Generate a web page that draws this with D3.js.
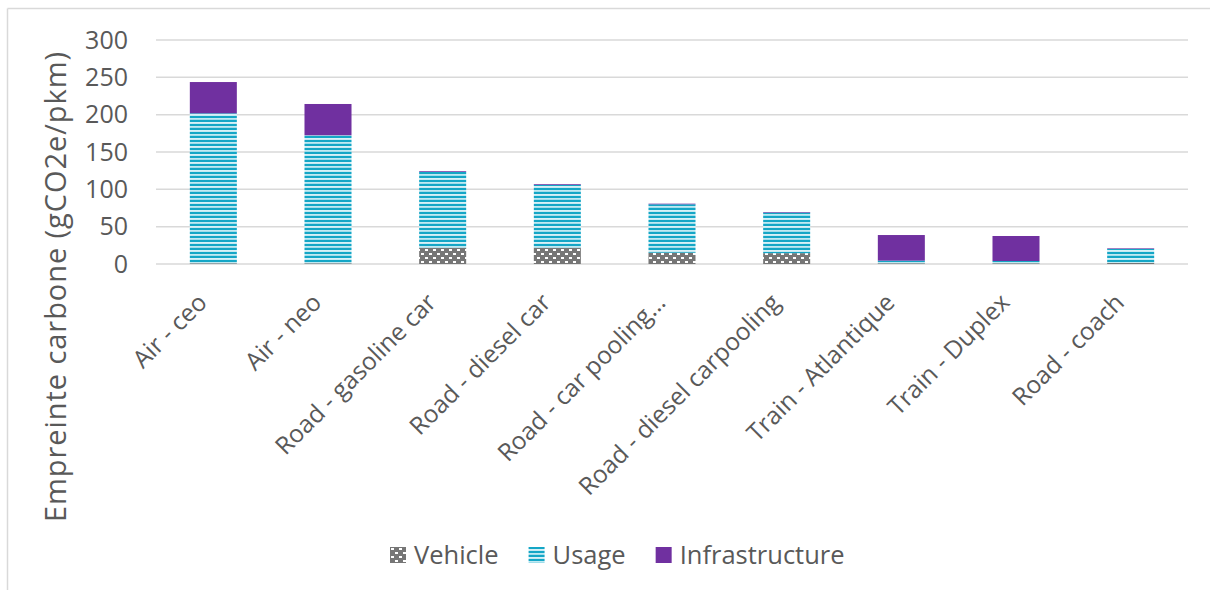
<!DOCTYPE html>
<html>
<head>
<meta charset="utf-8">
<script src="https://cdn.jsdelivr.net/npm/d3@7"></script>
<style>
  body { margin: 0; background: #fff; }
  svg { font-family: "Open Sans", sans-serif; }
</style>
</head>
<body>
<svg id="chart" width="1210" height="590"></svg>
<script>
var categories = ["Air - ceo", "Air - neo", "Road - gasoline car", "Road - diesel car",
  "Road - car pooling\u2026", "Road - diesel carpooling", "Train - Atlantique", "Train - Duplex", "Road - coach"];
var vehicle = [1, 1, 21.8, 21.8, 15.1, 14.5, 1, 1, 1.5];
var usage = [200.8, 171.4, 101.7, 84.2, 64.9, 54.3, 3.5, 3, 18.7];
var infrastructure = [41.9, 41.9, 1, 1, 0.8, 0.8, 34.3, 33.5, 0.8];
var series = ["Vehicle", "Usage", "Infrastructure"];
var yTicks = [0, 50, 100, 150, 200, 250, 300];

function draw() {
  var svg = d3.select("#chart");
  var defs = svg.append("defs");

  // vehicle pattern: grey with small white blocks
  var pv = defs.append("pattern").attr("id", "pVehicle")
    .attr("patternUnits", "userSpaceOnUse").attr("width", 8).attr("height", 8);
  pv.append("rect").attr("width", 8).attr("height", 8).attr("fill", "#767676");
  pv.append("rect").attr("x", 1).attr("y", 1).attr("width", 3).attr("height", 2).attr("fill", "#fff");
  pv.append("rect").attr("x", 5).attr("y", 5).attr("width", 3).attr("height", 2).attr("fill", "#fff");

  // usage pattern: horizontal teal stripes
  var pu = defs.append("pattern").attr("id", "pUsage")
    .attr("patternUnits", "userSpaceOnUse").attr("width", 8).attr("height", 8);
  pu.append("rect").attr("width", 8).attr("height", 8).attr("fill", "#fff");
  pu.append("rect").attr("y", 0).attr("width", 8).attr("height", 2).attr("fill", "#14a6c6");
  pu.append("rect").attr("y", 2.6).attr("width", 8).attr("height", 1).attr("fill", "#9fdceb");
  pu.append("rect").attr("y", 4).attr("width", 8).attr("height", 2).attr("fill", "#14a6c6");
  pu.append("rect").attr("y", 6.6).attr("width", 8).attr("height", 1).attr("fill", "#62c8de");

  var fills = { Vehicle: "url(#pVehicle)", Usage: "url(#pUsage)", Infrastructure: "#7030a0" };

  // chart frame (left and top border)
  svg.append("line").attr("x1", 7.5).attr("x2", 7.5).attr("y1", 8.5).attr("y2", 590)
    .attr("stroke", "#d9d9d9").attr("stroke-width", 1.5);
  svg.append("line").attr("x1", 7.5).attr("x2", 1210).attr("y1", 8.5).attr("y2", 8.5)
    .attr("stroke", "#d9d9d9").attr("stroke-width", 1.5);

  var pLeft = 156, pRight = 1188, pTop = 40, pBottom = 264;

  var x = d3.scaleBand().domain(categories).range([pLeft, pRight]).paddingInner(0.59).paddingOuter(0.295);
  var y = d3.scaleLinear().domain([0, 300]).range([pBottom, pTop]);

  // gridlines
  svg.append("g").selectAll("line").data(yTicks).enter().append("line")
    .attr("x1", pLeft).attr("x2", pRight)
    .attr("y1", d => y(d)).attr("y2", d => y(d))
    .attr("stroke", "#d9d9d9").attr("stroke-width", 1.5);

  // y axis labels
  var yAxis = svg.append("g").attr("transform", "translate(" + (pLeft - 28) + ",0)")
    .call(d3.axisLeft(y).tickValues(yTicks).tickSize(0).tickPadding(0));
  yAxis.select(".domain").remove();
  yAxis.selectAll("text").attr("font-size", 25).attr("fill", "#595959")
    .attr("font-family", "'Open Sans', sans-serif");

  svg.append("text")
    .attr("transform", "translate(66,287) rotate(-90)")
    .attr("text-anchor", "middle").attr("font-size", 29).attr("fill", "#595959")
    .attr("textLength", 470).attr("lengthAdjust", "spacing")
    .text("Empreinte carbone (gCO2e/pkm)");

  // stacked bars
  var rows = categories.map((c, i) => ({ cat: c, Vehicle: vehicle[i], Usage: usage[i], Infrastructure: infrastructure[i] }));
  var stacked = d3.stack().keys(series)(rows);

  svg.append("g").selectAll("g").data(stacked).enter().append("g")
    .attr("fill", d => fills[d.key])
    .selectAll("rect").data(d => d).enter().append("rect")
    .attr("x", d => x(d.data.cat))
    .attr("width", x.bandwidth())
    .attr("y", d => y(d[1]))
    .attr("height", d => y(d[0]) - y(d[1]));

  // x labels rotated
  svg.append("g").selectAll("text").data(categories).enter().append("text")
    .attr("transform", d => "translate(" + (x(d) + x.bandwidth() / 2 - 5) + "," + 304 + ") rotate(-45)")
    .attr("text-anchor", "end").attr("font-size", 24.5).attr("fill", "#595959")
    .text(d => d);

  // legend
  var lg = svg.append("g").attr("transform", "translate(390,555)");
  var lx = 0;
  series.forEach(function(s) {
    lg.append("rect").attr("x", lx).attr("y", -8).attr("width", 16).attr("height", 16).attr("fill", fills[s]);
    var t = lg.append("text").attr("x", lx + 24).attr("y", 9)
      .attr("font-size", 25.5).attr("fill", "#595959").text(s);
    lx += 24 + t.node().getComputedTextLength() + 30;
  });
}

draw();
</script>
</body>
</html>
